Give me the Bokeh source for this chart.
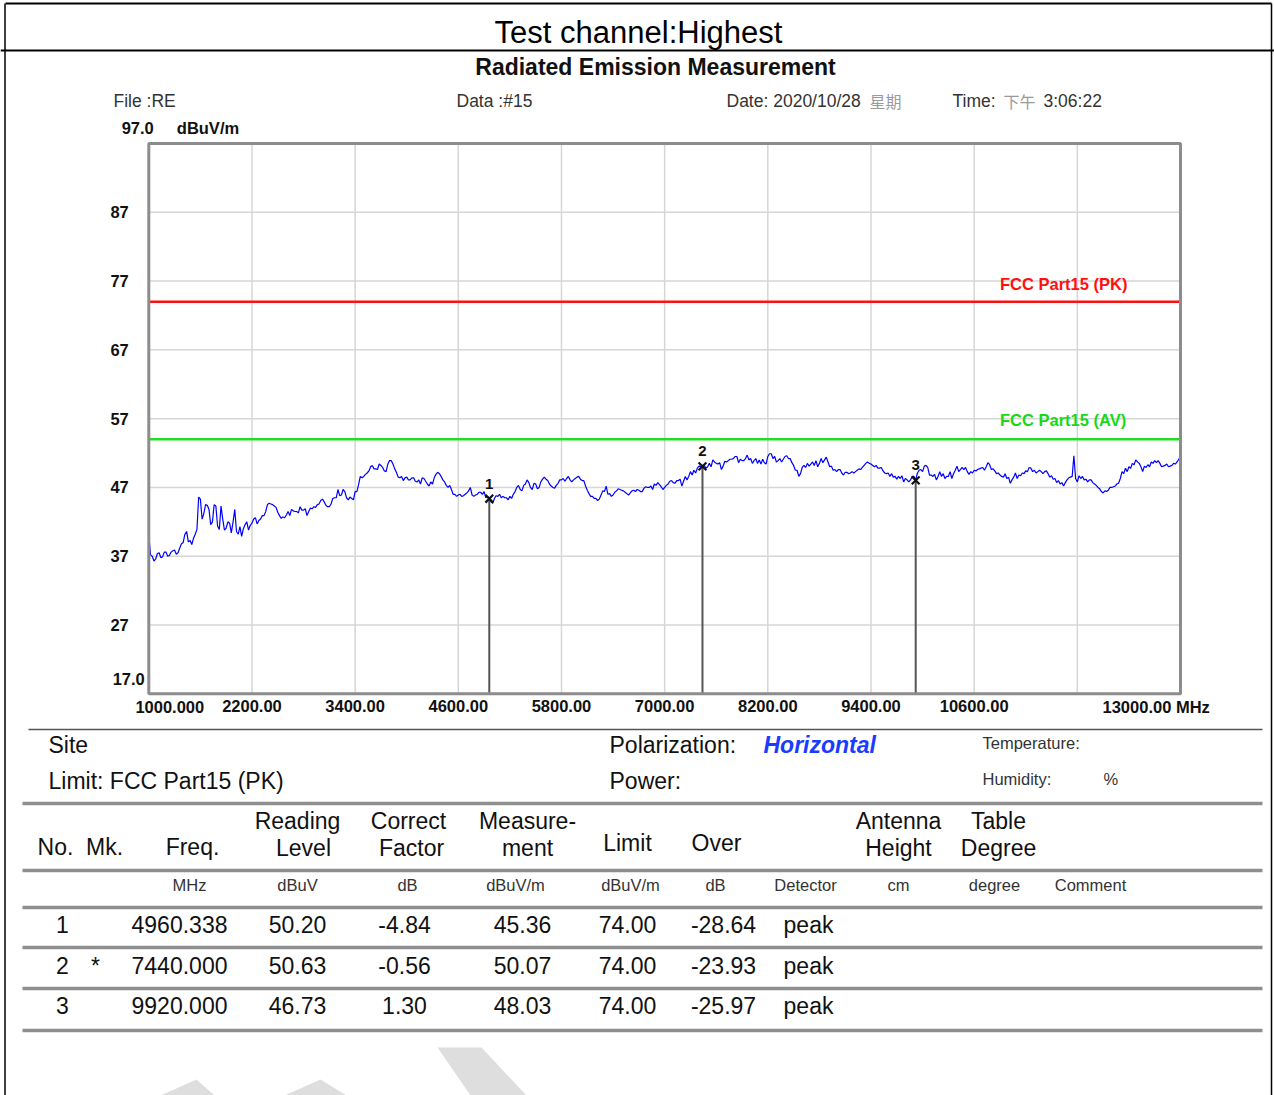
from bokeh.plotting import figure
from bokeh.models import Range1d, FixedTicker, LinearAxis
from bokeh.embed import file_html
from bokeh.resources import INLINE
from bokeh.core.properties import value

FONT = "Liberation Sans"
CJK = "Noto Sans CJK SC"

# ---------------- data ----------------
FREQ_MHZ = [
    1000, 1020, 1040, 1060, 1080, 1100, 1120, 1140, 1160, 1180, 1200, 1220, 1240, 1260, 1280, 1300, 1320, 1340, 1360, 1380, 1400, 1420, 1440, 1460, 1480, 1500, 1520, 1540, 1560, 1580, 1600, 1620, 1640, 1660, 1680, 1700, 1720, 1740, 1760, 1780, 1800, 1820, 1840, 1860, 1880, 1900, 1920, 1940, 1960, 1980, 2000, 2020, 2040, 2060, 2080, 2100, 2120, 2140, 2160, 2180,
    2200, 2220, 2240, 2260, 2280, 2300, 2320, 2340, 2360, 2380, 2400, 2420, 2440, 2460, 2480, 2500, 2520, 2540, 2560, 2580, 2600, 2620, 2640, 2660, 2680, 2700, 2720, 2740, 2760, 2780, 2800, 2820, 2840, 2860, 2880, 2900, 2920, 2940, 2960, 2980, 3000, 3020, 3040, 3060, 3080, 3100, 3120, 3140, 3160, 3180, 3200, 3220, 3240, 3260, 3280, 3300, 3320, 3340, 3360, 3380,
    3400, 3420, 3440, 3460, 3480, 3500, 3520, 3540, 3560, 3580, 3600, 3620, 3640, 3660, 3680, 3700, 3720, 3740, 3760, 3780, 3800, 3820, 3840, 3860, 3880, 3900, 3920, 3940, 3960, 3980, 4000, 4020, 4040, 4060, 4080, 4100, 4120, 4140, 4160, 4180, 4200, 4220, 4240, 4260, 4280, 4300, 4320, 4340, 4360, 4380, 4400, 4420, 4440, 4460, 4480, 4500, 4520, 4540, 4560, 4580,
    4600, 4620, 4640, 4660, 4680, 4700, 4720, 4740, 4760, 4780, 4800, 4820, 4840, 4860, 4880, 4900, 4920, 4940, 4960, 4980, 5000, 5020, 5040, 5060, 5080, 5100, 5120, 5140, 5160, 5180, 5200, 5220, 5240, 5260, 5280, 5300, 5320, 5340, 5360, 5380, 5400, 5420, 5440, 5460, 5480, 5500, 5520, 5540, 5560, 5580, 5600, 5620, 5640, 5660, 5680, 5700, 5720, 5740, 5760, 5780,
    5800, 5820, 5840, 5860, 5880, 5900, 5920, 5940, 5960, 5980, 6000, 6020, 6040, 6060, 6080, 6100, 6120, 6140, 6160, 6180, 6200, 6220, 6240, 6260, 6280, 6300, 6320, 6340, 6360, 6380, 6400, 6420, 6440, 6460, 6480, 6500, 6520, 6540, 6560, 6580, 6600, 6620, 6640, 6660, 6680, 6700, 6720, 6740, 6760, 6780, 6800, 6820, 6840, 6860, 6880, 6900, 6920, 6940, 6960, 6980,
    7000, 7020, 7040, 7060, 7080, 7100, 7120, 7140, 7160, 7180, 7200, 7220, 7240, 7260, 7280, 7300, 7320, 7340, 7360, 7380, 7400, 7420, 7440, 7460, 7480, 7500, 7520, 7540, 7560, 7580, 7600, 7620, 7640, 7660, 7680, 7700, 7720, 7740, 7760, 7780, 7800, 7820, 7840, 7860, 7880, 7900, 7920, 7940, 7960, 7980, 8000, 8020, 8040, 8060, 8080, 8100, 8120, 8140, 8160, 8180,
    8200, 8220, 8240, 8260, 8280, 8300, 8320, 8340, 8360, 8380, 8400, 8420, 8440, 8460, 8480, 8500, 8520, 8540, 8560, 8580, 8600, 8620, 8640, 8660, 8680, 8700, 8720, 8740, 8760, 8780, 8800, 8820, 8840, 8860, 8880, 8900, 8920, 8940, 8960, 8980, 9000, 9020, 9040, 9060, 9080, 9100, 9120, 9140, 9160, 9180, 9200, 9220, 9240, 9260, 9280, 9300, 9320, 9340, 9360, 9380,
    9400, 9420, 9440, 9460, 9480, 9500, 9520, 9540, 9560, 9580, 9600, 9620, 9640, 9660, 9680, 9700, 9720, 9740, 9760, 9780, 9800, 9820, 9840, 9860, 9880, 9900, 9920, 9940, 9960, 9980, 10000, 10020, 10040, 10060, 10080, 10100, 10120, 10140, 10160, 10180, 10200, 10220, 10240, 10260, 10280, 10300, 10320, 10340, 10360, 10380, 10400, 10420, 10440, 10460, 10480, 10500, 10520, 10540, 10560, 10580,
    10600, 10620, 10640, 10660, 10680, 10700, 10720, 10740, 10760, 10780, 10800, 10820, 10840, 10860, 10880, 10900, 10920, 10940, 10960, 10980, 11000, 11020, 11040, 11060, 11080, 11100, 11120, 11140, 11160, 11180, 11200, 11220, 11240, 11260, 11280, 11300, 11320, 11340, 11360, 11380, 11400, 11420, 11440, 11460, 11480, 11500, 11520, 11540, 11560, 11580, 11600, 11620, 11640, 11660, 11680, 11700, 11720, 11740, 11760, 11780,
    11800, 11820, 11840, 11860, 11880, 11900, 11920, 11940, 11960, 11980, 12000, 12020, 12040, 12060, 12080, 12100, 12120, 12140, 12160, 12180, 12200, 12220, 12240, 12260, 12280, 12300, 12320, 12340, 12360, 12380, 12400, 12420, 12440, 12460, 12480, 12500, 12520, 12540, 12560, 12580, 12600, 12620, 12640, 12660, 12680, 12700, 12720, 12740, 12760, 12780, 12800, 12820, 12840, 12860, 12880, 12900, 12920, 12940, 12960, 12980,
    13000,
]
LEVEL_DBUV_M = [
    40.1, 37.2, 37.0, 36.3, 36.6, 37.4, 37.5, 36.8, 36.9, 37.6, 37.6, 37.0, 37.1, 37.6, 37.8, 37.9, 37.3, 37.5, 38.2, 38.8, 39.0, 40.2, 40.6, 39.1, 39.3, 38.7, 39.6, 40.2, 40.9, 45.6, 45.3, 42.4, 43.2, 44.5, 44.4, 43.8, 41.6, 42.0, 44.5, 44.3, 41.4, 40.9, 44.3, 42.4, 40.8, 41.1, 42.0, 41.8, 40.4, 42.0, 43.8, 40.6, 40.2, 41.3, 39.9, 41.0, 41.6, 42.0, 40.8, 41.5,
    41.8, 42.4, 42.6, 41.7, 42.2, 42.4, 42.9, 42.9, 43.5, 44.5, 44.7, 44.6, 44.5, 44.3, 44.1, 43.4, 42.9, 42.5, 42.7, 42.6, 43.0, 43.5, 42.9, 43.8, 43.6, 43.5, 43.5, 43.3, 44.2, 43.7, 43.7, 43.9, 42.9, 43.5, 44.0, 43.9, 44.2, 44.1, 44.5, 44.6, 45.1, 45.3, 44.9, 44.4, 44.2, 44.2, 44.6, 45.4, 45.5, 45.5, 46.7, 45.8, 45.9, 46.7, 46.4, 45.5, 45.2, 45.6, 45.4, 45.2,
    46.4, 46.4, 47.4, 48.6, 48.4, 48.6, 48.9, 49.1, 49.4, 50.0, 50.2, 49.7, 49.7, 49.6, 50.4, 50.2, 49.9, 49.4, 49.3, 50.4, 50.9, 50.9, 50.4, 49.7, 49.2, 48.5, 48.4, 48.6, 48.0, 48.4, 48.5, 48.1, 48.1, 48.4, 48.4, 47.9, 47.8, 48.1, 47.5, 48.4, 48.3, 47.9, 47.5, 47.2, 47.8, 47.5, 48.4, 48.9, 49.2, 49.0, 48.6, 48.1, 47.8, 47.3, 47.0, 47.3, 46.7, 46.0, 46.0, 45.7,
    45.9, 46.0, 45.7, 45.8, 46.0, 46.2, 46.5, 47.0, 45.9, 45.7, 45.9, 46.0, 46.3, 46.3, 46.0, 46.4, 45.5, 45.7, 45.4, 44.9, 44.7, 45.4, 45.8, 45.7, 46.0, 45.5, 45.7, 45.5, 45.5, 45.2, 45.7, 45.4, 46.0, 46.4, 47.0, 47.3, 46.7, 46.5, 47.3, 47.5, 48.1, 47.7, 47.0, 46.7, 47.6, 47.5, 46.8, 47.0, 47.8, 48.2, 48.5, 48.2, 48.0, 47.5, 47.2, 47.0, 46.9, 47.3, 47.6, 48.1,
    48.1, 48.3, 47.9, 48.3, 48.6, 48.1, 47.8, 48.1, 48.3, 48.5, 48.6, 48.2, 48.0, 48.0, 47.2, 46.6, 46.1, 45.7, 45.7, 45.4, 45.4, 45.1, 45.3, 45.9, 46.5, 46.4, 47.2, 46.0, 46.1, 45.7, 45.9, 46.3, 46.5, 46.8, 46.7, 46.6, 46.5, 46.3, 46.1, 45.9, 46.2, 46.5, 46.6, 46.4, 46.7, 46.6, 46.4, 46.4, 46.9, 47.1, 47.0, 47.0, 47.2, 46.7, 47.5, 47.3, 47.7, 47.4, 47.1, 46.7,
    47.0, 47.3, 47.5, 47.9, 48.0, 47.7, 47.6, 48.0, 48.0, 48.2, 47.2, 47.9, 48.6, 48.1, 48.6, 49.3, 48.8, 49.5, 49.1, 49.8, 50.1, 50.0, 50.1, 50.2, 49.8, 50.0, 50.5, 50.0, 51.0, 50.7, 50.5, 50.4, 50.6, 49.6, 50.1, 50.8, 50.7, 50.9, 51.1, 51.1, 51.2, 51.5, 51.5, 50.6, 51.1, 50.9, 50.9, 51.2, 51.7, 51.0, 51.2, 50.5, 50.9, 51.2, 50.5, 51.0, 50.4, 51.1, 50.6, 50.4,
    51.5, 51.9, 51.9, 51.2, 51.5, 50.7, 50.9, 51.2, 50.7, 51.1, 51.5, 51.6, 51.2, 51.2, 50.6, 50.2, 49.5, 49.5, 48.6, 49.0, 49.9, 50.2, 49.9, 50.5, 50.1, 50.4, 50.7, 50.2, 50.9, 50.0, 50.5, 51.2, 50.6, 51.0, 51.4, 50.7, 50.0, 50.1, 49.5, 49.6, 49.3, 49.6, 49.6, 49.1, 48.8, 49.2, 49.2, 49.0, 49.1, 49.3, 49.1, 49.3, 49.5, 49.7, 49.6, 49.9, 50.2, 50.5, 50.7, 50.5,
    50.4, 50.2, 50.0, 50.2, 49.8, 49.8, 49.9, 49.4, 49.1, 49.0, 49.1, 48.6, 49.0, 48.5, 48.6, 48.2, 48.6, 48.3, 48.7, 47.8, 48.3, 48.1, 47.8, 48.1, 48.6, 48.6, 48.1, 49.1, 49.5, 49.6, 49.3, 50.1, 50.2, 49.9, 48.8, 48.8, 48.6, 48.9, 48.1, 48.6, 49.3, 48.6, 49.0, 48.3, 48.6, 48.6, 49.3, 48.3, 49.0, 49.5, 50.1, 49.3, 49.6, 49.9, 49.6, 49.9, 49.3, 48.9, 49.3, 49.1,
    49.5, 49.4, 49.6, 49.7, 49.8, 49.9, 49.5, 50.0, 50.6, 50.3, 49.6, 49.7, 49.4, 49.0, 49.1, 48.8, 48.6, 48.5, 49.0, 48.3, 48.5, 47.6, 48.1, 48.5, 49.1, 48.3, 48.8, 48.7, 49.1, 49.0, 49.4, 49.3, 49.9, 49.8, 49.3, 49.5, 49.1, 49.3, 49.5, 49.3, 49.0, 49.3, 49.4, 49.0, 48.5, 48.7, 48.2, 48.3, 47.7, 48.0, 47.5, 47.7, 47.2, 47.7, 48.1, 48.4, 48.5, 48.6, 51.6, 48.3,
    47.8, 48.7, 48.3, 48.6, 48.1, 48.2, 47.8, 48.1, 48.1, 47.7, 47.5, 47.3, 47.0, 46.8, 46.4, 46.2, 46.5, 46.4, 46.6, 47.0, 47.0, 47.1, 47.2, 47.5, 47.6, 48.3, 49.3, 49.0, 49.8, 49.3, 50.0, 49.8, 50.5, 50.3, 51.0, 50.7, 50.5, 50.0, 49.3, 50.1, 49.9, 50.3, 50.0, 50.7, 50.5, 50.9, 50.6, 50.9, 50.5, 50.0, 50.1, 50.2, 50.4, 50.0, 50.1, 50.2, 50.5, 50.4, 50.7, 51.1,
    51.5,
]
assert len(FREQ_MHZ) == len(LEVEL_DBUV_M) == 601

LIMIT_PK = 74.0
LIMIT_AV = 54.0
Y_MIN, Y_MAX = 17.0, 97.0
F_MIN, F_MAX = 1000.0, 13000.0
Y_TICKS = [27, 37, 47, 57, 67, 77, 87]
X_GRID = [2200, 3400, 4600, 5800, 7000, 8200, 9400, 10600, 11800]
X_TICKS = [2200, 3400, 4600, 5800, 7000, 8200, 9400, 10600]

MARK_NO = [1, 2, 3]
MARK_FLAG = ["", "*", ""]
MARK_FREQ = [4960.338, 7440.000, 9920.000]
READING = [50.20, 50.63, 46.73]
CORRECT = [-4.84, -0.56, 1.30]
MEASURE = [45.36, 50.07, 48.03]
LIMIT = [74.00, 74.00, 74.00]
OVER = [-28.64, -23.93, -25.97]
DETECTOR = ["peak", "peak", "peak"]

# ---------------- page layout (pixels) ----------------
W, H = 1274, 1095
FRAME_L, FRAME_R, FRAME_T, FRAME_B = 148.3, 1180.0, 143.0, 693.3

p = figure(width=W, height=H, x_range=Range1d(0, W), y_range=Range1d(H, 0),
           x_axis_type=None, y_axis_type=None, output_backend="svg",
           toolbar_location=None, min_border=0)
p.outline_line_color = None
p.background_fill_color = "white"
p.border_fill_color = "white"

# chart coordinate system mapped onto the chart box of the page
kx = (F_MAX - F_MIN) / (FRAME_R - FRAME_L)
ky = (Y_MAX - Y_MIN) / (FRAME_B - FRAME_T)
p.extra_x_ranges = {"freq": Range1d(F_MIN - FRAME_L * kx, F_MAX + (W - FRAME_R) * kx)}
p.extra_y_ranges = {"lvl": Range1d(Y_MIN - (H - FRAME_B) * ky, Y_MAX + FRAME_T * ky)}
C = dict(x_range_name="freq", y_range_name="lvl")


def put(x, y, txt, size, align="left", style="normal", color="#111111", font=FONT):
    p.text(x=[x], y=[y], text=[txt], text_font=value(font), text_font_size=f"{size}px",
           text_font_style=style, text_align=align, text_baseline="middle", text_color=color)


# ---------------- page frame + header ----------------
p.segment(x0=[5, 0], y0=[3, 50], x1=[1271, W], y1=[3, 50], line_color="black", line_width=2)
p.segment(x0=[4.5, 1271], y0=[3, 3], x1=[4.5, 1271], y1=[H, H], line_color="black", line_width=1.5)
put(638, 32, "Test channel:Highest", 31, align="center", color="black")
put(655, 66, "Radiated Emission Measurement", 23, align="center", style="bold")
put(113, 100, "File :RE", 17.5, color="#333333")
put(456, 100, "Data :#15", 17.5, color="#333333")
put(726, 100, "Date: 2020/10/28", 17.5, color="#333333")
put(869, 100, "星期", 16, color="#9a9a9a", font=CJK)
put(952, 100, "Time:", 17.5, color="#333333")
put(1003, 100, "下午", 16, color="#9a9a9a", font=CJK)
put(1043, 100, "3:06:22", 17.5, color="#333333")

# ---------------- chart ----------------
nx, ny = len(X_GRID), len(Y_TICKS)
p.segment(x0=X_GRID, y0=[Y_MIN] * nx, x1=X_GRID, y1=[Y_MAX] * nx,
          line_color="#d6d6d6", line_width=1.5, **C)
p.segment(x0=[F_MIN] * ny, y0=Y_TICKS, x1=[F_MAX] * ny, y1=Y_TICKS,
          line_color="#d6d6d6", line_width=1.5, **C)
p.segment(x0=[F_MIN, F_MIN], y0=[LIMIT_PK, LIMIT_AV], x1=[F_MAX, F_MAX], y1=[LIMIT_PK, LIMIT_AV],
          line_color=["#ff1010", "#22dd22"], line_width=2.5, **C)

p.line(FREQ_MHZ, LEVEL_DBUV_M, line_color="#0000ff", line_width=1.2, **C)

p.segment(x0=MARK_FREQ, y0=MEASURE, x1=MARK_FREQ, y1=[Y_MIN] * len(MARK_FREQ),
          line_color="#555555", line_width=2, **C)
p.scatter(MARK_FREQ, MEASURE, marker="x", size=11, line_color="#111111", line_width=2.2, **C)
p.text(x=MARK_FREQ, y=MEASURE, text=[str(n) for n in MARK_NO], y_offset=-10,
       text_font=value(FONT), text_font_size="15px", text_font_style="bold",
       text_align="center", text_baseline="bottom", text_color="#111111", **C)

p.quad(left=[F_MIN], right=[F_MAX], bottom=[Y_MIN], top=[Y_MAX], fill_color=None,
       line_color="#8c8c8c", line_width=3, **C)

xax = LinearAxis(fixed_location=Y_MIN, ticker=FixedTicker(ticks=X_TICKS),
                 major_label_overrides={t: f"{t:.2f}" for t in X_TICKS}, **C)
yax = LinearAxis(fixed_location=F_MIN, ticker=FixedTicker(ticks=Y_TICKS), **C)
for ax in (xax, yax):
    ax.axis_line_color = None
    ax.major_tick_line_color = None
    ax.minor_tick_line_color = None
    ax.major_tick_out = 0
    ax.major_tick_in = 0
    ax.major_label_text_font = FONT
    ax.major_label_text_font_style = "bold"
    ax.major_label_text_font_size = "16.5px"
    ax.major_label_text_color = "#111111"
xax.major_label_standoff = 6
yax.major_label_standoff = 20
p.add_layout(xax, "below")
p.add_layout(yax, "left")


def chart_text(x, y, txt, dx, dy, align, color="#111111"):
    p.text(x=[x], y=[y], text=[txt], x_offset=dx, y_offset=dy, text_font=value(FONT),
           text_font_size="16.5px", text_font_style="bold", text_align=align,
           text_baseline="middle", text_color=color, **C)


chart_text(10900, LIMIT_PK, "FCC Part15 (PK)", 0, -18, "left", "#ff1010")
chart_text(10900, LIMIT_AV, "FCC Part15 (AV)", 0, -19, "left", "#18d818")
chart_text(F_MIN, Y_MIN, f"{Y_MIN:.1f}", -4, -15, "right")
chart_text(F_MIN, Y_MAX, f"{Y_MAX:.1f}", 5, -16, "right")
chart_text(F_MIN, Y_MAX, "dBuV/m", 28, -16, "left")
chart_text(F_MIN, Y_MIN, f"{F_MIN:.3f}", 21, 13, "center")
chart_text(F_MAX, Y_MIN, f"{F_MAX:.2f} MHz", -78, 13, "left")

# ---------------- table ----------------
p.patches(xs=[[160, 196, 214], [284, 320, 346], [437, 481, 526, 470]],
          ys=[[1095, 1079, 1095], [1095, 1079, 1095], [1047, 1047, 1095, 1095]],
          fill_color="#dedede", line_color=None)
p.segment(x0=[28], y0=[729], x1=[1262], y1=[729], line_color="#555555", line_width=1.5)
RULES_Y = [803, 870, 907, 947, 988, 1030]
p.segment(x0=[22] * len(RULES_Y), y0=RULES_Y, x1=[1262] * len(RULES_Y), y1=RULES_Y,
          line_color="#8e8e8e", line_width=3.5)

put(48, 744, "Site", 23)
put(48, 780, "Limit: FCC Part15 (PK)", 23)
put(609, 744, "Polarization:", 23)
put(763, 744, "Horizontal", 23, style="bold italic", color="#1a3cff")
put(609, 780, "Power:", 23)
put(982, 742, "Temperature:", 16.5, color="#333333")
put(982, 778, "Humidity:", 16.5, color="#333333")
put(1103, 778, "%", 16.5, color="#333333")

HEAD_TOP = [("Reading", 297), ("Correct", 408), ("Measure-", 527), ("Antenna", 898), ("Table", 998)]
HEAD_BOT = [("No.", 55, 846), ("Mk.", 104, 846), ("Freq.", 192, 846), ("Level", 303, 847),
            ("Factor", 411, 847), ("ment", 527, 847), ("Limit", 627, 842), ("Over", 716, 842),
            ("Height", 898, 847), ("Degree", 998, 847)]
for t, x in HEAD_TOP:
    put(x, 820, t, 23, align="center")
for t, x, y in HEAD_BOT:
    put(x, y, t, 23, align="center")

UNITS = [("MHz", 189), ("dBuV", 297), ("dB", 407), ("dBuV/m", 515), ("dBuV/m", 630), ("dB", 715),
         ("Detector", 805), ("cm", 898), ("degree", 994), ("Comment", 1090)]
for t, x in UNITS:
    put(x, 884, t, 16.5, align="center", color="#333333")

ROW_Y = [924, 965, 1005]
COLS = [
    (62, [str(n) for n in MARK_NO]),
    (95, MARK_FLAG),
    (179, [f"{v:.3f}" for v in MARK_FREQ]),
    (297, [f"{v:.2f}" for v in READING]),
    (404, [f"{v:.2f}" for v in CORRECT]),
    (522, [f"{v:.2f}" for v in MEASURE]),
    (627, [f"{v:.2f}" for v in LIMIT]),
    (723, [f"{v:.2f}" for v in OVER]),
    (808, DETECTOR),
]
for x, texts in COLS:
    p.text(x=[x] * len(ROW_Y), y=ROW_Y, text=texts, text_font=value(FONT), text_font_size="23px",
           text_align="center", text_baseline="middle", text_color="#111111")

open("out.html", "w").write(file_html(p, INLINE, "Radiated Emission Measurement"))
